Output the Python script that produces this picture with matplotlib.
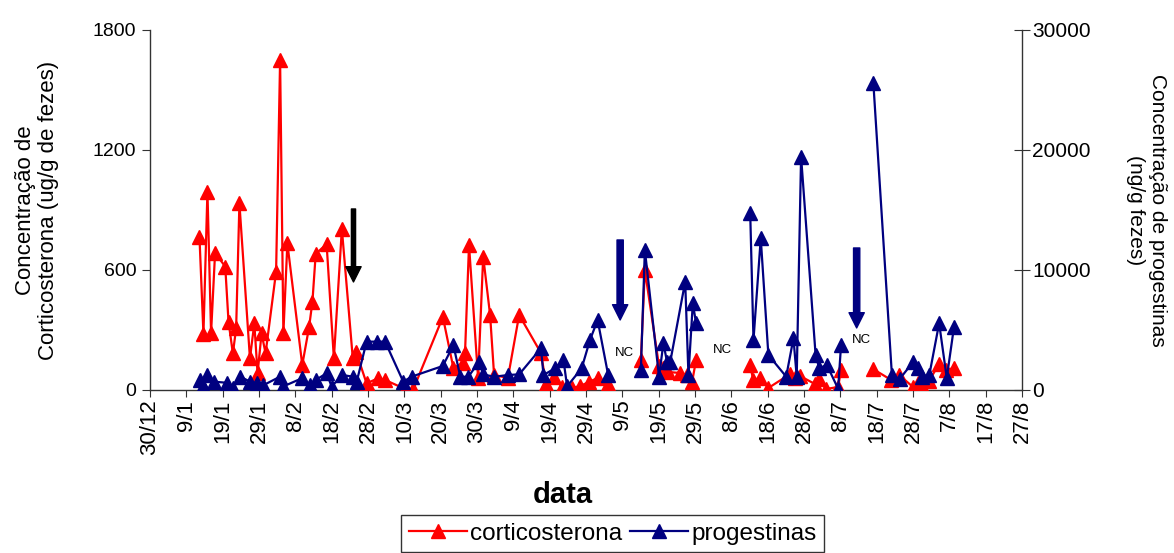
import matplotlib
matplotlib.use("Agg")
import matplotlib.pyplot as plt
import numpy as np

plt.rcParams["font.family"] = ["Liberation Sans", "DejaVu Sans"]

NC = np.nan  # período sem coleta

# dias contados a partir de 30/12
dias_cort = [13.6, 14.7, 15.8, 16.8, 17.9, 20.7, 21.6, 22.8, 23.7, 24.6,
             27.5, 28.7, 29.6, 30.7, 31.8, 34.7, 35.8, 36.7, 37.8, 41.9,
             43.8, 44.7, 45.6, 48.6, 50.6, 52.8, 55.8, 56.7, 59.6, 62.7,
             64.7, 70.2, 72.5, 80.6, 83.5, 86.1, 86.7, 87.8, 90.3, 91.7,
             93.6, 94.7, 98.5, 101.6, 107.6, 109.0, 111.2, 113.4, 116.2, 118.4,
             120.8, 123.2, 126.1, 130.5, 135.1, 136.2, 140.1, 141.3, 142.6, 145.9,
             147.7, 149.2, 150.3, 157.6, 165.2, 166.0, 168.0, 170.2, 176.2, 177.5,
             178.9, 183.0, 184.1, 186.1, 189.4, 190.2, 195.7, 199.0, 204.0, 206.2,
             210.0, 211.4, 212.5, 214.4, 217.2, 219.1, 221.3]
corticosterona = [767, 280, 992, 285, 685, 617, 342, 183, 308, 933,
                  158, 333, 83, 283, 183, 592, 1650, 283, 733, 125,
                  317, 442, 680, 730, 158, 805, 160, 192, 33, 58,
                  50, 5, 5, 365, 110, 135, 185, 725, 60, 667,
                  375, 75, 60, 375, 185, 30, 65, 15, 10, 20,
                  40, 60, 30, NC, 150, 600, 120, 108, 90, 85,
                  75, 40, 150, NC, 125, 50, 60, 10, 80, 60,
                  70, 30, 55, 5, 15, 100, NC, 105, 50, 75,
                  15, 35, 20, 45, 130, 100, 110]

dias_prog = [13.8, 14.6, 15.8, 17.6, 21.1, 22.9, 24.8, 27.5, 29.4, 31.2,
             35.8, 36.7, 41.8, 44.0, 45.6, 48.6, 50.0, 52.8, 55.8, 56.9,
             59.6, 62.4, 64.7, 69.7, 72.0, 80.6, 83.5, 85.4, 87.6, 90.6,
             91.7, 94.7, 98.6, 101.6, 107.6, 108.3, 111.5, 113.8, 114.8, 118.8,
             121.1, 123.2, 126.1, 130.5, 135.1, 136.2, 140.1, 141.3, 142.3, 143.2,
             147.3, 148.2, 149.4, 150.3, 157.6, 165.2, 166.1, 168.1, 170.2, 175.1,
             177.1, 178.0, 179.2, 183.2, 184.2, 186.3, 189.4, 190.2, 195.7, 199.1,
             204.2, 206.3, 210.1, 211.5, 212.4, 214.5, 217.2, 219.3, 221.3]
progestinas = [833, 300, 1250, 694, 600, 167, 1111, 700, 600, 400,
               1111, 300, 972, 400, 833, 1389, 278, 1250, 1111, 700,
               4028, 4028, 4028, 694, 1111, 2000, 3750, 1100, 1100, 2361,
               1300, 1100, 1250, 1300, 3472, 1250, 1806, 2500, 300, 1806,
               4167, 5833, 1250, NC, 1667, 11667, 1100, 3889, 2361, 2361,
               9028, 1250, 7222, 5556, NC, 14722, 4167, 12639, 2917, 1111,
               4306, 1111, 19444, 2917, 1806, 2083, 100, 3750, NC, 25556,
               1250, 900, 2361, 1806, 1111, 1250, 5556, 1000, 5278]

rotulos_x = ["30/12", "9/1", "19/1", "29/1", "8/2", "18/2", "28/2", "10/3",
             "20/3", "30/3", "9/4", "19/4", "29/4", "9/5", "19/5", "29/5",
             "8/6", "18/6", "28/6", "8/7", "18/7", "28/7", "7/8", "17/8", "27/8"]
ticks_x = [10 * i for i in range(len(rotulos_x))]

# setas (dia, topo, ponta em ug/g, cor, largura) e marcas "NC"
setas = [(56.0, 905, 540, "black", 3.0), (129.4, 750, 350, "#000080", 4.5),
         (194.5, 710, 310, "#000080", 4.5)]
nc_dias = [130.5, 157.6, 195.7]
nc_y = [185, 200, 250]

VERM = "#FF0000"
AZUL = "#000080"
FS = 14

fig = plt.figure(figsize=(11.74, 5.53), dpi=100)
ax = fig.add_axes([0.1278, 0.2948, 0.7427, 0.651])
ax2 = ax.twinx()

l1, = ax.plot(dias_cort, corticosterona, color=VERM, lw=1.6, marker="^",
              markersize=10, label="corticosterona", zorder=3)
l2, = ax2.plot(dias_prog, progestinas, color=AZUL, lw=1.6, marker="^",
               markersize=10, label="progestinas", zorder=3)

ax.set_xlim(0, 240)
ax.set_ylim(0, 1800)
ax2.set_ylim(0, 30000)
ax.set_yticks([0, 600, 1200, 1800])
ax2.set_yticks([0, 10000, 20000, 30000])
ax.set_xticks(ticks_x)
ax.set_xticklabels(rotulos_x, rotation=90, va="top", ha="center", fontsize=16)

for a in (ax, ax2):
    a.spines["top"].set_visible(False)
    for s in ("left", "right", "bottom"):
        a.spines[s].set_color("#333333")
        a.spines[s].set_linewidth(1.0)
ax.spines["right"].set_visible(False)
ax2.spines["left"].set_visible(False)
ax2.spines["bottom"].set_visible(False)

ax.tick_params(axis="y", direction="out", length=6, color="#333333",
               labelsize=FS, pad=4)
ax.tick_params(axis="x", direction="out", length=5, color="#333333", pad=2)
ax2.tick_params(axis="y", direction="inout", length=11, color="#333333",
                labelsize=15, pad=2)

ax.set_ylabel("Concentração de\nCorticosterona (ug/g de fezes)", fontsize=16,
              labelpad=24, linespacing=1.15)
ax2.set_ylabel("Concentração de progestinas\n(ng/g fezes)", fontsize=15,
               rotation=270, labelpad=55, linespacing=1.2)
fig.text(0.479, 0.105, "data", fontsize=21, fontweight="bold",
         ha="center", va="center")

for d, y0, y1, cor, w in setas:
    ax.annotate("", xy=(d, y1), xytext=(d, y0),
                arrowprops=dict(facecolor=cor, edgecolor=cor, width=w,
                                headwidth=11, headlength=11, shrink=0),
                zorder=5)

for d, y in zip(nc_dias, nc_y):
    ax.text(d, y, "NC", fontsize=9.5, ha="center", va="center")

ax2.set_zorder(ax.get_zorder() + 1)
ax.patch.set_visible(False)

leg = fig.legend(handles=[l1, l2], loc="upper center",
                 bbox_to_anchor=(0.522, 0.09), ncol=2, fontsize=17.5,
                 frameon=True, fancybox=False, edgecolor="black",
                 handlelength=2.4, handletextpad=0.15, columnspacing=0.3,
                 borderpad=0.3)
leg.get_frame().set_linewidth(1.0)

fig.savefig("out.png", dpi=100)
